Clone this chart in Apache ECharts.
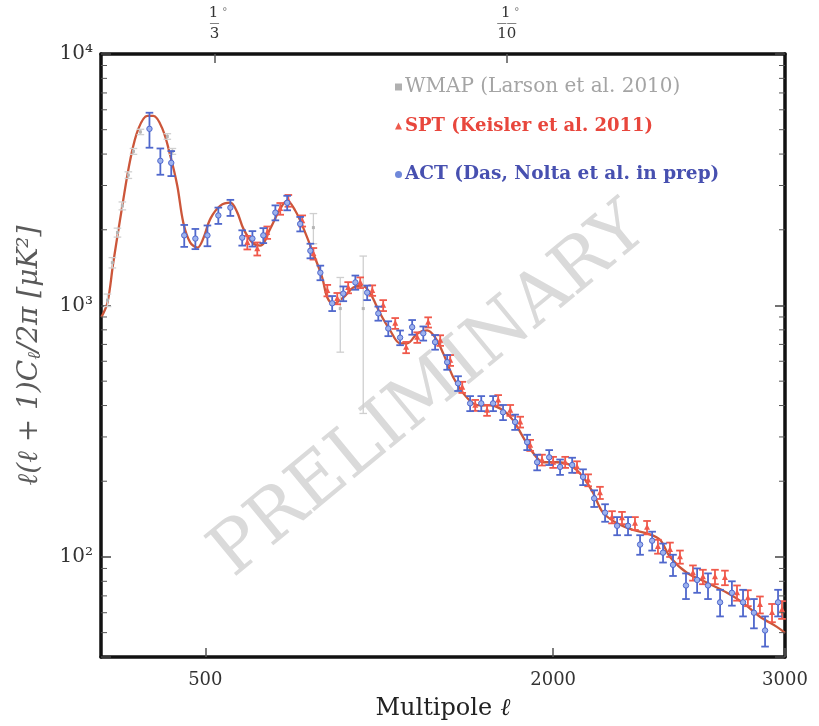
<!DOCTYPE html>
<html>
<head>
<meta charset="utf-8">
<script src="https://cdn.jsdelivr.net/npm/echarts@6/dist/echarts.min.js"></script>
<style>
html, body { margin: 0; padding: 0; background: #fff; }
#chart { width: 819px; height: 726px; }
</style>
</head>
<body>
<div id="chart"></div>
<script>
// theory curve
var theoryEll = [52, 78, 103, 142, 177, 211, 250, 276, 315, 349, 379, 405, 435, 466, 491, 522, 565, 608, 638, 664,
    703, 737, 780, 823, 853, 888, 922, 966, 1004, 1026, 1052, 1095, 1138, 1177, 1211, 1254, 1297, 1340, 1371, 1414,
    1457, 1491, 1526, 1569, 1612, 1655, 1690, 1728, 1784, 1827, 1871, 1914, 1957, 2017, 2073, 2129, 2172, 2215, 2276, 2345,
    2405, 2461, 2504, 2577, 2664, 2750, 2819, 2892, 2965, 3000];
var theoryVal = [900, 1028, 1482, 2494, 3831, 5038, 5675, 5675, 5038, 3938, 2994, 2135, 1778, 1699, 1845, 2215, 2494, 2563, 2340, 2021,
    1778, 1730, 2021, 2425, 2610, 2380, 2040, 1607, 1292, 1076, 1018, 1076, 1178, 1200, 1116, 929, 796, 707, 707, 774,
    796, 746, 645, 518, 448, 408, 400, 401, 383, 350, 299, 259, 238, 238, 232, 208, 180, 150, 136, 128,
    124, 117, 100, 86.5, 78.9, 72, 65.7, 57.8, 52.7, 49.9];

// WMAP
var wmapEll = [78, 99, 121, 142, 168, 190, 220, 336, 358, 966, 1082, 1181];
var wmapVal = [1050, 1480, 1950, 2490, 3300, 4100, 4900, 4700, 4100, 2040, 972, 972];
var wmapErr = [60, 70, 80, 90, 100, 110, 120, 120, 110, 280, 320, 600];

// SPT
var sptEll = [681, 724, 767, 823, 858, 918, 966, 1026, 1069, 1116, 1168, 1220, 1267, 1319, 1366, 1414, 1461, 1513, 1556, 1608,
    1664, 1715, 1763, 1815, 1858, 1901, 1952, 2000, 2052, 2103, 2151, 2202, 2254, 2297, 2353, 2405, 2452, 2504, 2547, 2603,
    2646, 2698, 2741, 2793, 2840, 2892, 2944, 2987];
var sptVal = [1780, 1680, 1950, 2425, 2610, 2170, 1607, 1147, 1066, 1178, 1233, 1147, 1000, 849, 681, 746, 857, 726, 605, 473,
    401, 383, 420, 383, 344, 278, 243, 238, 238, 228, 202, 180, 144, 143, 136, 131, 110, 107, 100, 86.5,
    83.4, 83.4, 82.7, 72, 68.7, 64.6, 60, 61.7];
var sptErr = [110, 100, 110, 130, 140, 110, 85, 60, 55, 60, 60, 55, 50, 42, 35, 36, 40, 35, 30, 24,
    20, 19, 20, 19, 17, 14, 12, 12, 12, 12, 11, 10, 8, 8, 8, 8, 7, 7, 6, 6,
    5.5, 5.5, 5.5, 5, 5, 5, 5, 5];

// ACT
var actEll = [259, 306, 353, 409, 457, 509, 556, 608, 659, 703, 750, 802, 853, 909, 953, 996, 1047, 1095, 1147, 1198,
    1246, 1289, 1340, 1392, 1440, 1491, 1543, 1590, 1642, 1690, 1741, 1784, 1836, 1888, 1931, 1983, 2030, 2082, 2129, 2177,
    2224, 2276, 2323, 2375, 2427, 2474, 2517, 2573, 2621, 2668, 2720, 2771, 2819, 2866, 2914, 2970];
var actVal = [5040, 3760, 3690, 1900, 1845, 1900, 2280, 2450, 1860, 1845, 1900, 2340, 2560, 2110, 1650, 1350, 1020, 1115, 1235, 1125,
    930, 810, 745, 820, 775, 715, 595, 490, 408, 408, 408, 376, 344, 286, 238, 249, 228, 232, 208, 171,
    150, 133, 133, 112, 116, 104, 93, 77, 81, 77, 66, 72, 66, 60, 51, 66];
var actErr = [800, 450, 420, 190, 170, 180, 170, 180, 130, 130, 130, 160, 170, 140, 110, 90, 70, 75, 80, 75,
    60, 55, 50, 55, 50, 48, 40, 33, 28, 28, 28, 26, 24, 20, 17, 17, 16, 16, 15, 13,
    12, 11, 11, 10, 10, 9, 9, 9, 9, 9, 8, 8, 8, 8, 7, 8];

var bottomTicks = [500, 2000, 3000];
var topTicks = [540, 1800];
var topTickLabels = ['3', '10'];
var minorTicks = [50, 60, 70, 80, 90, 200, 300, 400, 500, 600, 700, 800, 900,
    2000, 3000, 4000, 5000, 6000, 7000, 8000, 9000];

var X_MIN = 50, X_MAX = 3000;
var SERIF = '"DejaVu Serif", "Liberation Serif", serif';
var sup = { 2: '²', 3: '³', 4: '⁴' };
var FRAME = { color: '#111', width: 3.5 };

function zip3(a, b, c) {
    return a.map(function (x, i) { return [x, b[i], c[i]]; });
}

function errRender(color, fill, shape, lw, size) {
    return function (params, api) {
        var x = api.value(0), y = api.value(1), s = api.value(2);
        var c = api.coord([x, y]);
        var lo = api.coord([x, Math.max(y - s, 1)]);
        var hi = api.coord([x, y + s]);
        var w = 3.8;
        var st = { stroke: color, lineWidth: lw };
        var kids = [
            { type: 'line', shape: { x1: c[0], y1: lo[1], x2: c[0], y2: hi[1] }, style: st },
            { type: 'line', shape: { x1: c[0] - w, y1: lo[1], x2: c[0] + w, y2: lo[1] }, style: st },
            { type: 'line', shape: { x1: c[0] - w, y1: hi[1], x2: c[0] + w, y2: hi[1] }, style: st }
        ];
        if (shape === 'circle') {
            kids.push({ type: 'circle', shape: { cx: c[0], cy: c[1], r: size }, style: { fill: fill, stroke: color, lineWidth: 1 } });
        } else if (shape === 'triangle') {
            kids.push({ type: 'polygon', shape: { points: [[c[0], c[1] - size - 0.5], [c[0] - size, c[1] + size * 0.8], [c[0] + size, c[1] + size * 0.8]] }, style: { fill: fill } });
        } else {
            kids.push({ type: 'rect', shape: { x: c[0] - size / 2, y: c[1] - size / 2, width: size, height: size }, style: { fill: fill } });
        }
        return { type: 'group', children: kids };
    };
}

function oneLegend(name, icon, top, color, weight, size) {
    return {
        left: 390, top: top, orient: 'vertical', selectedMode: false,
        itemWidth: 7, itemHeight: 7, itemGap: 0,
        data: [{ name: name, icon: icon }],
        textStyle: { color: color, fontFamily: SERIF, fontSize: size, fontWeight: weight, padding: [0, 0, 0, -2] }
    };
}

var chart = echarts.init(document.getElementById('chart'));
chart.setOption({
    animation: false,
    backgroundColor: '#ffffff',
    grid: { left: 101, right: 34, top: 54, bottom: 68 },
    legend: [
        oneLegend('WMAP (Larson et al. 2010)', 'rect', 72, '#a4a4a4', 'normal', 20),
        oneLegend('SPT (Keisler et al. 2011)', 'triangle', 112, '#e8463c', 'bold', 18),
        oneLegend('ACT (Das, Nolta et al. in prep)', 'circle', 160, '#4750b0', 'bold', 18.5)
    ],
    graphic: [{
        type: 'text', x: 430, y: 392, rotation: 0.69, z: 0,
        style: {
            text: 'PRELIMINARY', font: '71px ' + SERIF, fill: '#dadada',
            align: 'center', verticalAlign: 'middle', textAlign: 'center', textVerticalAlign: 'middle'
        }
    }],
    xAxis: [{
        type: 'value', position: 'bottom', min: X_MIN, max: X_MAX,
        axisLine: { lineStyle: FRAME },
        axisTick: { inside: true, length: 9, customValues: bottomTicks, lineStyle: { color: '#555', width: 1.5 } },
        axisLabel: {
            customValues: bottomTicks, margin: 14, fontFamily: SERIF, fontSize: 18, color: '#333',
            formatter: function (v) { return String(v); }
        },
        splitLine: { show: false },
        name: '{a|Multipole} {b|ℓ}', nameLocation: 'middle', nameGap: 40,
        nameTextStyle: {
            rich: {
                a: { fontFamily: SERIF, fontSize: 24, color: '#222' },
                b: { fontFamily: SERIF, fontSize: 24, fontStyle: 'italic', color: '#222', padding: [0, 0, 0, 5] }
            }
        }
    }, {
        type: 'value', position: 'top', min: X_MIN, max: X_MAX,
        axisLine: { lineStyle: FRAME },
        axisTick: { inside: true, length: 9, customValues: topTicks, lineStyle: { color: '#555', width: 1.5 } },
        axisLabel: {
            customValues: topTicks, margin: 12,
            formatter: function (v) {
                var d = topTickLabels[topTicks.indexOf(v)];
                return '{n|1}{g| °}\n{b|' + (d.length > 1 ? '——' : '—') + '}\n{d|' + d + '}';
            },
            rich: {
                n: { fontFamily: SERIF, fontSize: 15, color: '#333', lineHeight: 15, padding: [0, 0, 0, 7] },
                g: { fontFamily: SERIF, fontSize: 11, color: '#888', lineHeight: 15 },
                b: { fontFamily: SERIF, fontSize: 10, color: '#333', lineHeight: 5 },
                d: { fontFamily: SERIF, fontSize: 15, color: '#333', lineHeight: 16 }
            }
        },
        splitLine: { show: false }
    }],
    yAxis: [{
        type: 'log', logBase: 10, min: 40, max: 10000, position: 'left',
        axisLine: { show: true, lineStyle: FRAME },
        axisTick: { inside: true, length: 10, lineStyle: { color: '#444', width: 1.5 } },
        axisLabel: {
            margin: 8, fontFamily: SERIF, fontSize: 20, color: '#333',
            formatter: function (v) {
                var e = Math.round(Math.log10(v));
                if (Math.abs(Math.log10(v) - e) > 1e-6 || !sup[e]) return '';
                return '10' + sup[e];
            }
        },
        splitLine: { show: false },
        name: 'ℓ(ℓ + 1)C{s|ℓ}/2π [μK²]', nameLocation: 'middle', nameRotate: 90, nameGap: 57,
        nameTextStyle: {
            fontFamily: SERIF, fontSize: 28, fontStyle: 'italic', color: '#5a5a5a',
            rich: { s: { fontFamily: SERIF, fontSize: 18, fontStyle: 'italic', color: '#5a5a5a', padding: [10, 0, 0, 0] } }
        }
    }, {
        type: 'log', logBase: 10, min: 40, max: 10000, position: 'right',
        axisLine: { show: true, lineStyle: FRAME },
        axisTick: { inside: true, length: 10, lineStyle: { color: '#444', width: 1.5 } },
        axisLabel: { show: false },
        splitLine: { show: false }
    }],
    series: [{
        name: 'minor', type: 'custom', silent: true, z: 5,
        data: minorTicks.map(function (v) { return [X_MIN, v]; }),
        renderItem: function (params, api) {
            var v = api.value(1);
            var a = api.coord([X_MIN, v]);
            var b = api.coord([X_MAX, v]);
            var st = { stroke: '#555', lineWidth: 1 };
            return {
                type: 'group', children: [
                    { type: 'line', shape: { x1: a[0], y1: a[1], x2: a[0] + 6, y2: a[1] }, style: st },
                    { type: 'line', shape: { x1: b[0] - 6, y1: b[1], x2: b[0], y2: b[1] }, style: st }
                ]
            };
        }
    }, {
        name: 'theory', type: 'line', smooth: 0.35, symbol: 'none', z: 2,
        data: theoryEll.map(function (x, i) { return [x, theoryVal[i]]; }),
        lineStyle: { color: '#cc563a', width: 2.3 }
    }, {
        name: 'WMAP (Larson et al. 2010)', type: 'custom', z: 3,
        itemStyle: { color: '#b0b0b0' },
        encode: { x: 0, y: 1 },
        data: zip3(wmapEll, wmapVal, wmapErr),
        renderItem: errRender('#cfcfcf', '#b5b5b5', 'rect', 1.3, 3)
    }, {
        name: 'SPT (Keisler et al. 2011)', type: 'custom', z: 4,
        itemStyle: { color: '#ee5a4c' },
        encode: { x: 0, y: 1 },
        data: zip3(sptEll, sptVal, sptErr),
        renderItem: errRender('#f0594b', '#f0594b', 'triangle', 1.8, 3)
    }, {
        name: 'ACT (Das, Nolta et al. in prep)', type: 'custom', z: 4,
        itemStyle: { color: '#6f88da' },
        encode: { x: 0, y: 1 },
        data: zip3(actEll, actVal, actErr),
        renderItem: errRender('#4f67cc', '#9db2ee', 'circle', 1.8, 2.7)
    }]
});
</script>
</body>
</html>
